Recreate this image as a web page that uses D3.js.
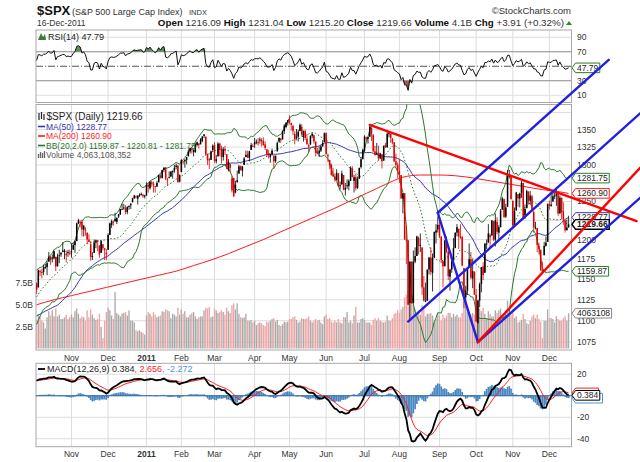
<!DOCTYPE html>
<html>
<head>
<meta charset="utf-8">
<script src="https://cdn.jsdelivr.net/npm/d3@7"></script>
<style>
body { margin: 0; background: #fff; }
svg { display: block; font-family: "Liberation Sans", Arial, sans-serif; }
</style>
</head>
<body>
<svg id="chart" width="640" height="462"></svg>
<script>
'use strict';

// closes before the first visible bar (Jul 1 - Oct 1 2010), only used to warm up the indicators
var warmupCloses = [
  1027,1023,1029,1060,1070,1078,1079,1095,1095,1096,1065,1071,1084,1070,1096,1103,1115,1113,1106,1102,1102,
  1125,1120,1127,1125,1122,1128,1121,1089,1083,1079,1079,1092,1095,1075,1071,1067,1051,1056,1047,1065,1049,1049,
  1080,1090,1105,1092,1098,1104,1110,1122,1121,1125,1125,1125,1142,1140,1134,1124,1148,1143,1147,1145,1141,
  1146
];

// daily bars, Oct 4 2010 .. Dec 16 2011 (one line per month)
var opens = [
  1145,1140,1160,1159,1159,1165,1165,1172,1178,1177,1176,1178,1166,1179,1181,1184,1184,1180,1183,1183,
  1185,1187,1193,1198,1221,1223,1223,1213,1213,1209,1200,1194,1179,1183,1196,1199,1192,1183,1194,1189,1183,
  1187,1206,1219,1223,1227,1223,1230,1233,1240,1241,1241,1236,1243,1245,1249,1254,1257,1254,1259,1259,1259,1257,
  1258,1273,1268,1276,1274,1271,1270,1276,1285,1282,1293,1296,1280,1283,1284,1290,1292,1297,1299,1277,
  1290,1305,1305,1307,1312,1319,1323,1318,1318,1328,1330,1329,1334,1341,1340,1315,1308,1307,1321,
  1328,1305,1312,1330,1322,1311,1322,1315,1293,1301,1265,1282,1262,1276,1288,1298,1292,1300,1311,1315,1310,1321,1327,
  1329,1333,1332,1335,1335,1334,1329,1322,1315,1311,1315,1313,1305,1319,1333,1337,1336,1348,1354,1360,
  1365,1360,1356,1344,1340,1340,1348,1354,1340,1348,1337,1326,1329,1341,1342,1333,1318,1316,1320,1326,1332,
  1345,1314,1307,1300,1287,1284,1279,1288,1272,1273,1286,1266,1272,1271,1278,1295,1278,1283,1268,1281,1297,1308,
  1320,1339,1337,1340,1353,1343,1319,1315,1317,1309,1315,1306,1328,1325,1344,1344,1337,1332,1305,1300,
  1292,1286,1254,1261,1200,1199,1121,1172,1121,1172,1179,1202,1193,1190,1140,1124,1124,1162,1177,1158,1177,1209,1213,
  1219,1204,1173,1166,1197,1185,1153,1162,1173,1189,1209,1214,1204,1203,1164,1128,1136,1164,1175,1151,1159,
  1131,1097,1124,1144,1166,1158,1194,1196,1206,1205,1224,1200,1223,1209,1216,1239,1253,1230,1243,1284,1284,
  1251,1219,1238,1260,1254,1262,1275,1232,1241,1263,1251,1257,1236,1216,1215,1192,1187,1162,1180,1192,1197,
  1246,1246,1250,1257,1258,1260,1234,1255,1237,1225,1212,1216.09
];
var highs = [
  1146,1162,1162,1163,1168,1169,1173,1184,1179,1181,1186,1178,1182,1187,1184,1197,1188,1186,1187,1187,
  1195,1196,1199,1222,1227,1225,1226,1219,1216,1209,1207,1198,1184,1200,1200,1199,1193,1199,1194,1189,1188,
  1208,1222,1226,1225,1235,1229,1233,1240,1247,1247,1245,1243,1245,1248,1255,1259,1258,1258,1261,1262,1260,1259,
  1276,1275,1277,1278,1277,1271,1278,1286,1287,1293,1297,1297,1282,1291,1291,1292,1300,1302,1300,1287,
  1308,1306,1308,1311,1322,1324,1324,1322,1331,1333,1331,1338,1341,1344,1340,1316,1310,1320,1329,
  1332,1314,1332,1331,1327,1325,1327,1315,1308,1301,1284,1282,1278,1292,1300,1299,1298,1311,1320,1320,1320,1331,1330,
  1338,1336,1338,1339,1338,1339,1333,1322,1321,1316,1323,1313,1313,1333,1339,1338,1349,1358,1361,1364,
  1371,1360,1356,1348,1351,1350,1359,1358,1349,1350,1344,1330,1342,1346,1343,1333,1324,1326,1328,1335,1346,
  1346,1316,1307,1302,1296,1288,1294,1289,1277,1292,1286,1275,1280,1280,1298,1298,1286,1288,1284,1296,1310,1323,
  1342,1340,1340,1356,1353,1343,1327,1331,1327,1317,1315,1327,1331,1347,1346,1344,1338,1332,1316,1303,
  1308,1286,1261,1261,1218,1199,1172,1172,1186,1190,1205,1204,1208,1190,1154,1146,1162,1178,1190,1182,1210,1220,1230,
  1230,1204,1173,1199,1204,1185,1163,1177,1202,1209,1220,1214,1220,1205,1164,1142,1164,1195,1184,1175,1160,
  1138,1125,1146,1165,1171,1195,1200,1220,1208,1225,1224,1234,1229,1219,1240,1256,1254,1247,1293,1293,1284,
  1251,1242,1263,1260,1262,1278,1275,1246,1266,1264,1264,1259,1238,1223,1215,1196,1187,1172,1197,1204,1247,
  1251,1260,1266,1266,1267,1260,1258,1255,1249,1226,1226,1231.04
];
var lows = [
  1132,1140,1154,1151,1155,1163,1155,1172,1168,1171,1175,1160,1166,1170,1178,1184,1175,1171,1178,1180,
  1177,1187,1183,1198,1220,1216,1204,1204,1205,1194,1197,1173,1174,1183,1189,1185,1177,1183,1186,1174,1174,
  1187,1206,1215,1218,1223,1220,1228,1232,1240,1239,1233,1233,1239,1240,1249,1254,1254,1246,1256,1258,1255,1254,
  1258,1262,1266,1270,1262,1262,1270,1276,1281,1281,1290,1279,1271,1282,1283,1281,1289,1294,1276,1276,
  1290,1301,1296,1301,1312,1316,1316,1312,1317,1326,1323,1329,1332,1338,1313,1300,1294,1307,1318,
  1303,1302,1312,1312,1302,1306,1314,1294,1291,1289,1262,1256,1261,1276,1288,1292,1284,1300,1311,1310,1305,1321,1325,
  1324,1329,1327,1330,1326,1327,1321,1311,1309,1303,1313,1295,1303,1319,1331,1331,1336,1344,1352,1356,
  1358,1349,1342,1329,1336,1333,1348,1340,1333,1335,1329,1318,1328,1338,1330,1312,1316,1311,1318,1326,1332,
  1315,1304,1294,1285,1284,1277,1279,1270,1266,1273,1265,1258,1267,1265,1278,1283,1262,1265,1267,1281,1295,1308,
  1318,1334,1330,1340,1334,1318,1313,1314,1306,1309,1295,1306,1324,1324,1339,1331,1329,1304,1296,1282,
  1275,1254,1234,1200,1169,1119,1101,1120,1121,1170,1179,1181,1184,1131,1123,1122,1124,1156,1155,1135,1177,1195,1209,
  1202,1170,1140,1167,1183,1149,1136,1158,1170,1190,1204,1188,1201,1166,1115,1121,1131,1164,1150,1139,1131,
  1099,1075,1116,1134,1149,1158,1188,1196,1190,1206,1198,1191,1207,1198,1216,1239,1229,1228,1243,1281,1253,
  1215,1219,1238,1243,1242,1255,1226,1227,1241,1246,1245,1237,1209,1213,1184,1181,1161,1158,1180,1191,1197,
  1239,1243,1250,1253,1244,1231,1234,1226,1219,1209,1212,1215.20
];
var closes = [
  1137,1161,1160,1158,1165,1165,1170,1178,1174,1176,1185,1166,1178,1180,1183,1186,1186,1182,1184,1183,
  1184,1193,1198,1221,1225,1223,1213,1218,1213,1200,1197,1178,1178,1196,1199,1197,1181,1198,1189,1187,1181,
  1206,1221,1224,1223,1224,1228,1233,1240,1240,1242,1236,1243,1244,1247,1254,1258,1257,1258,1259,1260,1257,1258,
  1272,1270,1277,1274,1272,1270,1275,1286,1283,1293,1296,1281,1280,1283,1291,1292,1296,1299,1276,1286,
  1307,1305,1307,1311,1319,1324,1321,1321,1329,1332,1328,1336,1340,1343,1315,1307,1306,1319,1327,
  1306,1308,1330,1321,1311,1322,1320,1295,1304,1296,1281,1257,1273,1279,1298,1293,1298,1309,1314,1310,1319,1328,1326,
  1332,1333,1332,1336,1333,1328,1324,1315,1314,1315,1320,1305,1313,1331,1338,1335,1348,1356,1360,1364,
  1361,1357,1348,1336,1340,1347,1357,1343,1348,1338,1329,1328,1341,1344,1333,1317,1316,1320,1326,1331,1345,
  1315,1312,1300,1286,1284,1280,1289,1271,1271,1288,1266,1268,1272,1278,1296,1283,1283,1268,1281,1296,1308,1321,
  1340,1337,1339,1354,1344,1319,1314,1317,1309,1316,1305,1327,1325,1344,1345,1338,1332,1305,1300,1292,
  1287,1254,1261,1200,1199,1119,1172,1121,1172,1179,1204,1192,1193,1140,1124,1124,1162,1177,1159,1177,1210,1212,1219,
  1204,1174,1166,1199,1185,1154,1162,1172,1189,1209,1216,1204,1202,1167,1130,1136,1163,1175,1152,1160,1131,
  1099,1124,1144,1165,1155,1195,1195,1208,1203,1225,1200,1225,1210,1216,1238,1254,1229,1242,1285,1285,1253,
  1219,1237,1262,1254,1261,1275,1229,1240,1264,1251,1258,1237,1216,1216,1193,1188,1161,1159,1192,1196,1247,
  1244,1244,1257,1258,1261,1234,1255,1236,1226,1212,1215.75,1219.66
];
// volume in billions of shares
var volumes = [
  3.3,3.9,3.7,3.2,3.0,2.3,3.6,4.3,3.8,4.4,3.7,4.6,3.7,3.9,3.4,3.4,3.6,3.9,3.4,3.6,
  3.9,3.6,4.3,4.6,4.0,3.5,3.7,3.6,3.2,4.4,3.6,4.5,3.9,3.5,3.3,3.4,4.0,2.5,1.2,3.2,4.2,
  4.7,4.4,3.8,3.4,6.5,4.1,3.9,3.7,4.0,4.1,4.2,3.8,4.4,3.2,3.2,3.0,2.1,2.0,2.1,1.9,1.8,1.6,
  3.8,4.2,4.0,3.7,4.2,3.9,3.6,3.7,3.8,4.3,4.2,4.5,4.4,4.3,3.5,4.0,3.9,3.7,4.7,3.9,
  4.5,4.0,4.3,3.6,3.6,3.9,4.1,4.2,3.7,3.4,3.6,3.7,3.7,4.4,4.7,4.6,4.8,3.6,3.7,
  4.6,4.4,4.1,4.2,4.4,4.2,3.9,4.7,4.3,4.1,5.0,5.2,4.5,5.2,4.0,3.6,3.5,3.6,4.0,3.2,3.2,3.3,3.0,
  3.2,2.7,2.9,3.0,2.9,2.7,2.6,3.1,3.0,3.2,3.4,3.5,3.1,3.3,2.7,2.6,2.8,3.1,3.0,3.1,
  3.4,3.4,3.6,3.7,3.3,3.0,3.1,3.5,3.4,3.4,3.5,3.7,3.2,3.0,3.2,3.4,3.2,3.3,3.0,2.8,3.7,
  3.9,3.4,3.5,3.1,3.0,3.2,3.0,3.4,3.0,2.9,3.6,3.6,4.2,3.0,3.2,2.9,3.8,4.8,3.0,3.0,3.4,3.5,
  3.3,3.0,3.0,3.0,2.7,3.3,3.5,3.2,3.5,3.2,3.1,3.0,3.1,3.8,3.2,3.2,3.5,4.0,4.1,4.4,
  4.1,4.5,4.8,5.9,6.2,6.7,6.3,5.9,5.3,4.5,3.9,4.1,3.9,5.0,4.7,3.7,4.0,4.0,4.1,3.8,3.1,3.4,4.1,
  3.8,3.2,3.9,3.5,3.8,4.1,4.1,3.6,4.0,3.7,3.9,3.6,3.6,4.1,5.4,4.9,4.2,4.0,3.9,4.1,3.9,
  5.0,5.2,4.6,4.3,4.7,4.0,3.5,4.3,4.0,3.7,3.7,4.4,4.1,4.4,4.6,3.9,4.0,4.4,5.5,4.0,3.9,
  4.1,3.5,3.7,3.0,3.1,3.3,4.0,3.4,2.9,2.8,3.2,3.7,3.9,3.5,3.9,3.4,3.1,1.2,3.2,3.2,4.5,
  3.5,3.5,3.4,3.0,3.7,3.4,3.2,3.2,3.5,3.7,3.2,4.06
];

// MA(200) every 10 bars
var ma200Bars = [0,10,20,30,40,50,60,70,80,90,100,110,120,130,140,150,160,170,180,190,200,210,220,230,240,250,260,270,280,290,300,305];
var ma200Vals = [1119,1125,1130,1135,1140,1145,1150,1155,1160,1167,1174,1182,1191,1200,1210,1220,1230,1240,1251,1262,1273,1283,1286,1286,1285,1282,1278,1274,1270,1266,1263,1260.9];

// month ticks: bar index of the first session of each month
var monthStarts = [20,41,63,83,102,125,145,166,188,208,231,252,273,294];
var monthLabels = ['Nov','Dec','2011','Feb','Mar','Apr','May','Jun','Jul','Aug','Sep','Oct','Nov','Dec'];

var priceGrid = [1075,1100,1125,1150,1175,1200,1225,1250,1275,1300,1325,1350,1375];
var priceTicks = [1075,1100,1125,1150,1175,1200,1250,1300,1325,1350];   // 1225 / 1275 sit under the value tags
var volTicks = [2.5,5,7.5];
var volTickLabels = ['2.5B','5.0B','7.5B'];
var rsiTicks = [10,30,70,90];
var macdGrid = [20,0,-20,-40];
var macdTicks = [20,-20,-40];

// hand drawn trend lines, [bar index, price]
var trendFrom = [[191,1357],[213,1099],[230,1235],[230,1235],[253,1075],[253,1075]];
var trendTo   = [[344,1224],[346,1374],[328,1455],[253,1075],[346,1255],[346,1296]];
var trendKind = ['red','blue','blue','blue','blue','red'];

// last values shown in the legends / right side tags
var lastClose = 1219.66, lastMa50 = 1228.77, lastMa200 = 1260.90;
var lastBB = [1159.87, 1220.81, 1281.75];
var lastVolume = 4063108352;
var lastRsi = 47.79;
var lastMacd = [0.384, 2.656, -2.272];

//---------------------------------------------------------------------------------------------

var BLUE = '#2b2bd6', RED = '#ff1a1a', GREEN = '#2a7a2a', NAVY = '#3636a8', GRID = '#dedede';
var LEFT = 36, RIGHT = 571.5;
var rsiP = {top: 30, bot: 102.5}, mainP = {top: 104.5, bot: 350}, macdP = {top: 363.3, bot: 446.7};

var svg = d3.select('#chart');

var x = d3.scaleLinear().domain([0, 305]).range([36.6, 568.6]);
var yP = d3.scaleLog().domain([1066, 1387]).range([mainP.bot, mainP.top]);
var yV = d3.scaleLinear().domain([0, 10]).range([348.5, 261.7]);
var yR = d3.scaleLinear().domain([0, 100]).range([rsiP.bot, rsiP.top]);
var yM = d3.scaleLinear().domain([-47.4, 30.2]).range([macdP.bot, macdP.top]);

// indicators
var all = warmupCloses.concat(closes);
var W = warmupCloses.length;

var ma50 = closes.map(function(c, i) { var g = W + i; return d3.mean(all.slice(g - 49, g + 1)); });
var bbMid = [], bbUp = [], bbLo = [];
closes.forEach(function(c, i) {
  var s = all.slice(W + i - 19, W + i + 1);
  var m = d3.mean(s);
  var sd = Math.sqrt(d3.mean(s, function(v) { return (v - m) * (v - m); }));
  bbMid.push(m); bbUp.push(m + 2 * sd); bbLo.push(m - 2 * sd);
});

function ema(arr, n) {
  var k = 2 / (n + 1), out = [arr[0]];
  for (var i = 1; i < arr.length; i++) out.push(arr[i] * k + out[i - 1] * (1 - k));
  return out;
}
var e12 = ema(all, 12), e26 = ema(all, 26);
var macdAll = e12.map(function(v, i) { return v - e26[i]; });
var sigAll = ema(macdAll, 9);
var macd = macdAll.slice(W), signal = sigAll.slice(W);
var hist = macd.map(function(v, i) { return v - signal[i]; });

var rsiAll = [];
(function() {
  var ag = 0, al = 0;
  for (var i = 1; i < all.length; i++) {
    var ch = all[i] - all[i - 1];
    var g = Math.max(ch, 0), l = Math.max(-ch, 0);
    if (i <= 14) { ag += g / 14; al += l / 14; }
    else { ag = (ag * 13 + g) / 14; al = (al * 13 + l) / 14; }
    rsiAll[i] = i >= 14 ? 100 - 100 / (1 + ag / al) : 50;
  }
})();
var rsi = rsiAll.slice(W);

// clip paths
var defs = svg.append('defs');
[['clipRsi', rsiP], ['clipMain', mainP], ['clipMacd', macdP]].forEach(function(c) {
  defs.append('clipPath').attr('id', c[0]).append('rect')
    .attr('x', LEFT).attr('y', c[1].top).attr('width', RIGHT - LEFT).attr('height', c[1].bot - c[1].top);
});

// panels + grids
[rsiP, mainP, macdP].forEach(function(p) {
  svg.append('rect').attr('x', LEFT).attr('y', p.top).attr('width', RIGHT - LEFT).attr('height', p.bot - p.top)
    .attr('fill', '#fff');
  svg.selectAll(null).data(monthStarts).enter().append('line')
    .attr('x1', function(d) { return x(d); }).attr('x2', function(d) { return x(d); })
    .attr('y1', p.top).attr('y2', p.bot).attr('stroke', GRID).attr('stroke-width', 1);
});

function hGrid(ticks, scale, color) {
  svg.selectAll(null).data(ticks).enter().append('line')
    .attr('x1', LEFT).attr('x2', RIGHT)
    .attr('y1', function(d) { return scale(d); }).attr('y2', function(d) { return scale(d); })
    .attr('stroke', color).attr('stroke-width', 1);
}
hGrid(priceGrid, yP, GRID);
hGrid([10, 90], yR, GRID);
hGrid([30, 70], yR, '#8a8a8a');
hGrid(macdGrid, yM, GRID);
svg.append('line').attr('x1', LEFT).attr('x2', RIGHT).attr('y1', yR(50)).attr('y2', yR(50))
  .attr('stroke', '#555').attr('stroke-dasharray', '7,2,1,2');

[rsiP, mainP, macdP].forEach(function(p) {
  svg.append('rect').attr('x', LEFT).attr('y', p.top).attr('width', RIGHT - LEFT).attr('height', p.bot - p.top)
    .attr('fill', 'none').attr('stroke', '#a8a8a8');
});

// axis text
function axisText(ticks, scale) {
  svg.selectAll(null).data(ticks).enter().append('text')
    .attr('x', 577).attr('y', function(d) { return scale(d) + 3; })
    .attr('font-size', 8.5).attr('fill', '#333')
    .text(function(d) { return d; });
}
axisText(priceTicks, yP);
axisText(rsiTicks, yR);
axisText(macdTicks, yM);

svg.selectAll(null).data(volTicks).enter().append('text')
  .attr('x', 33).attr('y', function(d) { return yV(d) + 3; }).attr('text-anchor', 'end')
  .attr('font-size', 8.5).attr('fill', '#333')
  .text(function(d, i) { return volTickLabels[i]; });

[361, 457].forEach(function(yy) {
  svg.selectAll(null).data(monthStarts).enter().append('text')
    .attr('x', function(d) { return x(d); }).attr('y', yy).attr('text-anchor', 'middle')
    .attr('font-size', 8.5).attr('fill', '#333')
    .attr('font-weight', function(d, i) { return monthLabels[i] === '2011' ? 'bold' : null; })
    .text(function(d, i) { return monthLabels[i]; });
});

// ---- RSI panel
var gR = svg.append('g').attr('clip-path', 'url(#clipRsi)');
gR.append('path').datum(rsi)
  .attr('d', d3.area().x(function(d, i) { return x(i); }).y0(yR(70)).y1(function(d) { return yR(Math.max(d, 70)); }))
  .attr('fill', '#5f8f5f');
gR.append('path').datum(rsi)
  .attr('d', d3.area().x(function(d, i) { return x(i); }).y0(yR(30)).y1(function(d) { return yR(Math.min(d, 30)); }))
  .attr('fill', '#a35a5a');
gR.append('path').datum(rsi)
  .attr('d', d3.line().x(function(d, i) { return x(i); }).y(function(d) { return yR(d); }))
  .attr('fill', 'none').attr('stroke', '#111').attr('stroke-width', 1);

// ---- main panel
var gM = svg.append('g').attr('clip-path', 'url(#clipMain)');

gM.selectAll('rect.vol').data(volumes).enter().append('rect')
  .attr('x', function(d, i) { return x(i) - 0.7; }).attr('width', 1.35)
  .attr('y', function(d) { return yV(d); }).attr('height', function(d) { return yV(0) - yV(d); })
  .attr('fill', function(d, i) { return closes[i] >= (i ? closes[i - 1] : all[W - 1]) ? '#ababab' : '#eda5a5'; });

var lineP = function(arr) {
  return d3.line().x(function(d, i) { return x(i); }).y(function(d) { return yP(d); })(arr);
};
gM.append('path').attr('d', d3.line().curve(d3.curveMonotoneX)
    .x(function(d, i) { return x(ma200Bars[i]); }).y(function(d) { return yP(d); })(ma200Vals))
  .attr('fill', 'none').attr('stroke', RED).attr('stroke-width', 1);
gM.append('path').attr('d', lineP(ma50)).attr('fill', 'none').attr('stroke', NAVY).attr('stroke-width', 1);
gM.append('path').attr('d', lineP(bbUp)).attr('fill', 'none').attr('stroke', GREEN).attr('stroke-width', 1);
gM.append('path').attr('d', lineP(bbLo)).attr('fill', 'none').attr('stroke', GREEN).attr('stroke-width', 1);
gM.append('path').attr('d', lineP(bbMid)).attr('fill', 'none').attr('stroke', GREEN).attr('stroke-width', 1)
  .attr('stroke-dasharray', '1.5,2');

var candles = gM.selectAll('g.candle').data(closes).enter().append('g');
function candleColor(d, i) { return d >= (i ? closes[i - 1] : all[W - 1]) ? '#000' : '#e00000'; }
candles.append('line')
  .attr('x1', function(d, i) { return x(i); }).attr('x2', function(d, i) { return x(i); })
  .attr('y1', function(d, i) { return yP(highs[i]); }).attr('y2', function(d, i) { return yP(lows[i]); })
  .attr('stroke', candleColor).attr('stroke-width', 0.8);
candles.append('rect')
  .attr('x', function(d, i) { return x(i) - 0.75; }).attr('width', 1.5)
  .attr('y', function(d, i) { return yP(Math.max(opens[i], d)); })
  .attr('height', function(d, i) { return Math.max(1, yP(Math.min(opens[i], d)) - yP(Math.max(opens[i], d))); })
  .attr('fill', candleColor);

// ---- MACD panel
var gD = svg.append('g').attr('clip-path', 'url(#clipMacd)');
gD.selectAll('rect.h').data(hist).enter().append('rect')
  .attr('x', function(d, i) { return x(i) - 0.85; }).attr('width', 1.7)
  .attr('y', function(d) { return Math.min(yM(0), yM(d)); })
  .attr('height', function(d) { return Math.abs(yM(d) - yM(0)); })
  .attr('fill', '#4a88c2');
gD.append('line').attr('x1', LEFT).attr('x2', RIGHT).attr('y1', yM(0)).attr('y2', yM(0))
  .attr('stroke', '#2a64a8').attr('stroke-width', 1.2);
var lineM = d3.line().x(function(d, i) { return x(i); }).y(function(d) { return yM(d); });
gD.append('path').attr('d', lineM(signal)).attr('fill', 'none').attr('stroke', RED).attr('stroke-width', 1);
gD.append('path').attr('d', lineM(macd)).attr('fill', 'none').attr('stroke', '#000').attr('stroke-width', 1.8);

// ---- legends
function legendRow(y, color, text, fill) {
  svg.append('line').attr('x1', 38).attr('x2', 45).attr('y1', y - 3).attr('y2', y - 3)
    .attr('stroke', color).attr('stroke-width', 1.6);
  svg.append('text').attr('x', 46).attr('y', y).attr('font-size', 8.5).attr('fill', fill || color).text(text);
}
svg.append('path').attr('d', 'M39,113v7M41.5,112v7M44,114v6').attr('stroke', '#222').attr('stroke-width', 1.2);
svg.append('text').attr('x', 46.5).attr('y', 120).attr('font-size', 10).attr('fill', '#222')
  .text('$SPX (Daily) ' + lastClose.toFixed(2));
legendRow(129.5, NAVY, 'MA(50) ' + lastMa50.toFixed(2));
legendRow(139, RED, 'MA(200) ' + lastMa200.toFixed(2));
legendRow(148.5, GREEN, 'BB(20,2.0) ' + lastBB.map(function(v) { return v.toFixed(2); }).join(' - '));
svg.append('path').attr('d', 'M38.5,158v-4M40.5,158v-6M42.5,158v-5M44.5,158v-7').attr('stroke', '#666').attr('stroke-width', 1.3);
svg.append('text').attr('x', 46).attr('y', 158).attr('font-size', 8.5).attr('fill', '#555')
  .text('Volume ' + d3.format(',')(lastVolume));

svg.append('path').attr('d', 'M38,40L41,33L43,37L45,34L46,40Z').attr('fill', '#3d7a3d');
svg.append('text').attr('x', 48).attr('y', 40).attr('font-size', 9).attr('fill', '#222')
  .text('RSI(14) ' + lastRsi.toFixed(2));

svg.append('line').attr('x1', 38).attr('x2', 45).attr('y1', 369).attr('y2', 369).attr('stroke', '#000').attr('stroke-width', 1.8);
var mt = svg.append('text').attr('x', 47).attr('y', 372).attr('font-size', 9);
mt.append('tspan').attr('fill', '#222').text('MACD(12,26,9) ' + lastMacd[0].toFixed(3));
mt.append('tspan').attr('fill', RED).text(', ' + lastMacd[1].toFixed(3));
mt.append('tspan').attr('fill', '#4f95d6').text(', ' + lastMacd[2].toFixed(3));

// ---- header
svg.append('text').attr('x', 37).attr('y', 15).attr('font-size', 13).attr('font-weight', 'bold').attr('fill', '#111').text('$SPX');
svg.append('text').attr('x', 72).attr('y', 15).attr('font-size', 9).attr('fill', '#333').text('(S&P 500 Large Cap Index)');
svg.append('text').attr('x', 189).attr('y', 15).attr('font-size', 7.5).attr('fill', '#333').text('INDX');
svg.append('text').attr('x', 571).attr('y', 14).attr('text-anchor', 'end').attr('font-size', 9.5).attr('fill', '#333')
  .text('\u00a9StockCharts.com');
svg.append('text').attr('x', 37).attr('y', 26).attr('font-size', 8.5).attr('fill', '#333').text('16-Dec-2011');
var hdr = svg.append('text').attr('x', 564).attr('y', 26).attr('text-anchor', 'end').attr('font-size', 9.8).attr('fill', '#333');
[['Open', '1216.09'], ['High', '1231.04'], ['Low', '1215.20'], ['Close', '1219.66'], ['Volume', '4.1B'], ['Chg', '+3.91 (+0.32%)']]
  .forEach(function(p, i) {
    hdr.append('tspan').attr('font-weight', 'bold').attr('fill', '#111').text((i ? '  ' : '') + p[0] + ' ');
    hdr.append('tspan').text(p[1]);
  });
svg.append('path').attr('d', 'M566,25L569,21L572,25Z').attr('fill', '#2a8a2a');

// ---- right side value tags (the ones fully covered by another tag get no text)
function tag(y, label, color, opts) {
  opts = opts || {};
  var g = svg.append('g');
  var p = g.append('path');
  var w = opts.width || 0;
  if (!opts.hidden) {
    var t = g.append('text').attr('x', 577).attr('y', y + 3).attr('font-size', 8.5)
      .attr('fill', '#222').attr('font-weight', opts.bold ? 'bold' : null).text(label);
    w = t.node().getComputedTextLength() + 3;
  }
  p.attr('d', 'M572,' + y + 'L575.5,' + (y - 4.8) + 'H' + (575.5 + w) + 'V' + (y + 4.8) + 'H575.5Z')
    .attr('fill', '#fff').attr('stroke', color).attr('stroke-width', opts.bold ? 1.4 : 1);
}
tag(yP(lastBB[2]), lastBB[2].toFixed(2), GREEN);
tag(yP(lastMa200), lastMa200.toFixed(2), RED);
tag(yP(lastBB[1]), lastBB[1].toFixed(2), GREEN, {hidden: true, width: 33});
tag(yP(lastMa50), lastMa50.toFixed(2), NAVY);
tag(yP(lastClose), lastClose.toFixed(2), '#000', {bold: true});
tag(yP(lastBB[0]), lastBB[0].toFixed(2), GREEN);
tag(yV(lastVolume / 1e9), String(Math.round(lastVolume / 1000)).slice(0, 7), '#888');
tag(yR(lastRsi), lastRsi.toFixed(2), GREEN);
tag(yM(lastMacd[2]), lastMacd[2].toFixed(3), '#4f95d6', {hidden: true, width: 27});
tag(yM(lastMacd[1]), lastMacd[1].toFixed(3), RED, {hidden: true, width: 23});
tag(yM(lastMacd[0]), lastMacd[0].toFixed(3), '#000');

// ---- trend lines, drawn over everything and not clipped
svg.selectAll('line.trend').data(trendFrom).enter().append('line')
  .attr('x1', function(d) { return x(d[0]); }).attr('y1', function(d) { return yP(d[1]); })
  .attr('x2', function(d, i) { return x(trendTo[i][0]); }).attr('y2', function(d, i) { return yP(trendTo[i][1]); })
  .attr('stroke', function(d, i) { return trendKind[i] === 'red' ? '#ff0000' : '#2020e0'; })
  .attr('stroke-width', 2.4).attr('stroke-linecap', 'round');
</script>
</body>
</html>
